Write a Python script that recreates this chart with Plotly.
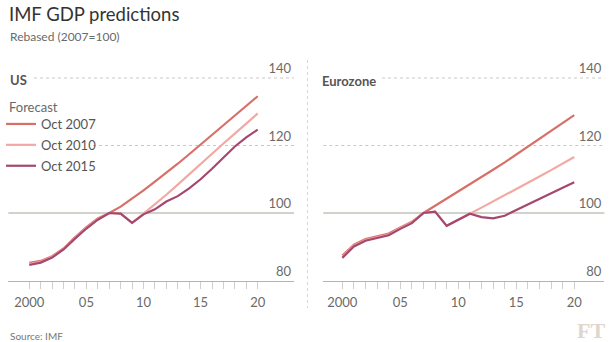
import plotly.graph_objects as go

years = list(range(2000, 2021))
series_names = ["Oct 2007", "Oct 2010", "Oct 2015"]
colors = ["#d8706a", "#f3a9a3", "#a5486f"]

us_oct2007 = [85.2, 85.8, 87.2, 89.5, 92.8, 95.8, 98.4, 100, 101.9, 104.2, 106.7,
              109.3, 111.9, 114.6, 117.4, 120.3, 123.2, 126.1, 128.9, 131.8, 134.6]
us_oct2010 = [84.9, 85.5, 87.0, 89.3, 92.6, 95.6, 98.2, 100, 99.8, 97.1, 99.8,
              102.5, 105.4, 108.4, 111.5, 114.6, 117.6, 120.6, 123.5, 126.5, 129.5]
us_oct2015 = [84.6, 85.3, 86.8, 89.2, 92.4, 95.4, 98.0, 100, 99.8, 97.1, 99.6,
              101.1, 103.4, 105.0, 107.3, 110.0, 113.1, 116.4, 119.7, 122.4, 124.7]

ez_oct2007 = [87.4, 90.6, 92.3, 93.1, 93.9, 95.7, 97.4, 100, 102.1, 104.2, 106.3,
              108.4, 110.6, 112.8, 115.0, 117.3, 119.6, 121.9, 124.2, 126.6, 129.0]
ez_oct2010 = [87.0, 90.3, 92.0, 92.8, 93.6, 95.5, 97.2, 100, 100.4, 96.2, 98.1,
              99.8, 101.6, 103.4, 105.2, 107.0, 108.9, 110.8, 112.7, 114.6, 116.6]
ez_oct2015 = [86.7, 90.1, 91.8, 92.6, 93.4, 95.3, 97.0, 100, 100.4, 96.2, 98.1,
              99.8, 98.8, 98.4, 99.2, 100.9, 102.6, 104.2, 105.8, 107.5, 109.1]

y_ticks = [80, 100, 120, 140]
x_tick_labels = {2000: "2000", 2005: "05", 2010: "10", 2015: "15", 2020: "20"}

FONT = "Lato"
W, H = 611, 342

fig = go.Figure()

us_data = [us_oct2007, us_oct2010, us_oct2015]
ez_data = [ez_oct2007, ez_oct2010, ez_oct2015]

for name, col, vals in zip(series_names, colors, us_data):
    fig.add_trace(go.Scatter(x=years, y=vals, mode="lines", name=name,
                             line=dict(color=col, width=2.2), xaxis="x", yaxis="y",
                             legendgroup=name, showlegend=True))
for name, col, vals in zip(series_names, colors, ez_data):
    fig.add_trace(go.Scatter(x=years, y=vals, mode="lines", name=name,
                             line=dict(color=col, width=2.2), xaxis="x2", yaxis="y2",
                             legendgroup=name, showlegend=False))

def px_x(p):
    return p / W

def px_y(p):
    return 1 - p / H

# 80 -> 280.5px, 140 -> 78px  (3.375 px per unit); top of range 146 -> 57.75px
ydom = [px_y(280.5), px_y(57.75)]
xdom1 = [px_x(8.3), px_x(294)]
xdom2 = [px_x(323.3), px_x(604.3)]

tickvals = years
ticktext = [x_tick_labels.get(y, "") for y in years]

xcommon = dict(showgrid=False, zeroline=False, showline=True, linecolor="#b3b7a8",
               linewidth=1.2, ticks="outside", ticklen=7, tickcolor="#cfcfcf",
               tickwidth=1, tickvals=tickvals, ticktext=ticktext,
               tickfont=dict(family=FONT, size=13, color="#6a6a6a"),
               ticklabelstandoff=3, fixedrange=True)
ycommon = dict(range=[80, 146], showgrid=False, zeroline=False, showline=False,
               side="right", ticks="", ticklabelposition="inside top",
               tickvals=y_ticks, tickfont=dict(family=FONT, size=13, color="#6a6a6a"),
               domain=ydom, fixedrange=True)

fig.update_layout(
    width=W, height=H, margin=dict(l=0, r=0, t=0, b=0),
    paper_bgcolor="white", plot_bgcolor="rgba(0,0,0,0)",
    xaxis=dict(domain=xdom1, range=[1998.16, 2023.18], anchor="y", **xcommon),
    yaxis=dict(anchor="x", **ycommon),
    xaxis2=dict(domain=xdom2, range=[1998.36, 2022.59], anchor="y2", **xcommon),
    yaxis2=dict(anchor="x2", **ycommon),
    showlegend=True,
    legend=dict(x=px_x(1), xanchor="left", y=px_y(109), yanchor="top",
                bgcolor="rgba(0,0,0,0)", font=dict(family=FONT, size=13, color="#555"),
                tracegroupgap=1, itemwidth=30),
)

# gridlines
grid_dot = dict(color="#c9c9c9", width=1, dash="dot")
grid_solid = dict(color="#c2c5b9", width=1.5)
starts = {("x", 140): 0.09, ("x", 120): 0.2965, ("x2", 140): 0.209, ("x2", 120): 0.0}
for xr, yr in [("x", "y"), ("x2", "y2")]:
    for v in y_ticks:
        if v == 80:
            continue
        if v == 100:
            fig.add_shape(type="line", xref=f"{xr} domain", yref=yr, x0=0, x1=1,
                          y0=v, y1=v, line=grid_solid, layer="below")
        else:
            fig.add_shape(type="line", xref=f"{xr} domain", yref=yr, x0=starts[(xr, v)],
                          x1=1, y0=v, y1=v, line=grid_dot, layer="below")

# divider
fig.add_shape(type="line", xref="paper", yref="paper", x0=px_x(307.5), x1=px_x(307.5),
              y0=px_y(60), y1=px_y(308), line=dict(color="#d6d6d6", width=1, dash="dot"))

ann = [
    dict(text="IMF GDP predictions", x=px_x(7), y=px_y(14), size=18.5, color="#333333"),
    dict(text="Rebased (2007=100)", x=px_x(8), y=px_y(37), size=12, color="#6a6a6a"),
    dict(text="<b>US</b>", x=px_x(8), y=px_y(80), size=13, color="#555555"),
    dict(text="<b>Eurozone</b>", x=px_x(320), y=px_y(81), size=13, color="#555555"),
    dict(text="Forecast", x=px_x(7), y=px_y(107), size=13, color="#6a6a6a"),
    dict(text="Source: IMF", x=px_x(8), y=px_y(336), size=10, color="#777777"),
]
for a in ann:
    fig.add_annotation(text=a["text"], x=a["x"], y=a["y"], xref="paper", yref="paper",
                       xanchor="left", yanchor="middle", showarrow=False,
                       font=dict(family=FONT, size=a["size"], color=a["color"]))
fig.add_annotation(text="<b>FT</b>", x=px_x(607), y=px_y(330), xref="paper", yref="paper",
                   xanchor="right", yanchor="middle", showarrow=False,
                   font=dict(family="Liberation Serif", size=22, color="#e0d6cc"))

fig.write_html("out.html", config=dict(displayModeBar=False))
